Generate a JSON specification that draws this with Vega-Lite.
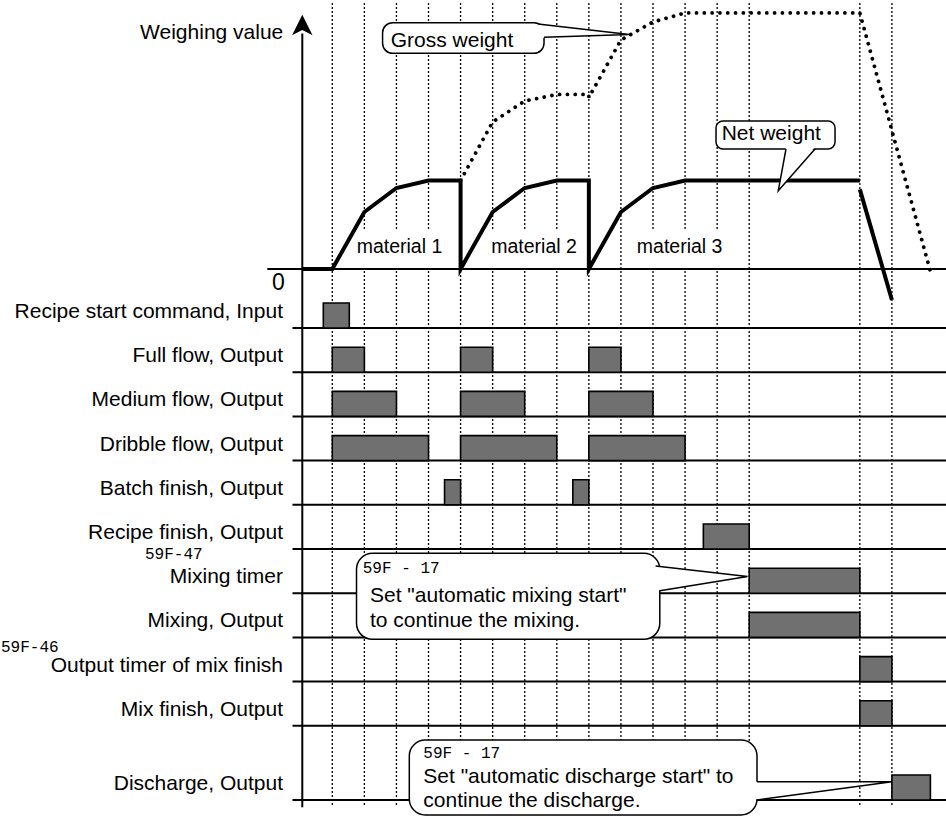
{
  "$schema": "https://vega.github.io/schema/vega-lite/v6.json",
  "width": 946,
  "height": 818,
  "padding": 0,
  "autosize": {"type": "none"},
  "background": "white",
  "config": {"view": {"stroke": null}, "font": "Liberation Sans"},
  "datasets": {
    "one": [{}],
    "grid": [{"t":0},{"t":1},{"t":2},{"t":3},{"t":4},{"t":5},{"t":6},{"t":7},{"t":8},{"t":9},{"t":10},{"t":11},{"t":12},{"t":13},{"t":16.45},{"t":17.45}],
    "lanes": [
      {"lane":1,"label":"Recipe start command, Input"},
      {"lane":2,"label":"Full flow, Output"},
      {"lane":3,"label":"Medium flow, Output"},
      {"lane":4,"label":"Dribble flow, Output"},
      {"lane":5,"label":"Batch finish, Output"},
      {"lane":6,"label":"Recipe finish, Output"},
      {"lane":7,"label":"Mixing timer"},
      {"lane":8,"label":"Mixing, Output"},
      {"lane":9,"label":"Output timer of mix finish"},
      {"lane":10,"label":"Mix finish, Output"},
      {"lane":11.679,"label":"Discharge, Output"}
    ],
    "boxes": [
      {"lane":1,"on":-0.28,"off":0.53},
      {"lane":2,"on":0,"off":1},{"lane":2,"on":4,"off":5},{"lane":2,"on":8,"off":9},
      {"lane":3,"on":0,"off":2},{"lane":3,"on":4,"off":6},{"lane":3,"on":8,"off":10},
      {"lane":4,"on":0,"off":3},{"lane":4,"on":4,"off":7},{"lane":4,"on":8,"off":11},
      {"lane":5,"on":3.5,"off":4},{"lane":5,"on":7.5,"off":8},
      {"lane":6,"on":11.57,"off":13},
      {"lane":7,"on":13,"off":16.45},
      {"lane":8,"on":13,"off":16.45},
      {"lane":9,"on":16.45,"off":17.45},
      {"lane":10,"on":16.45,"off":17.45},
      {"lane":11.679,"on":17.45,"off":18.65}
    ],
    "net": [
      {"seg":"a","i":1,"t":-0.9355,"w":0},
      {"seg":"a","i":2,"t":0,"w":0},
      {"seg":"a","i":3,"t":1,"w":64.4},
      {"seg":"a","i":4,"t":2,"w":91.5},
      {"seg":"a","i":5,"t":3,"w":100},
      {"seg":"a","i":6,"t":4,"w":100},
      {"seg":"a","i":7,"t":4,"w":0},
      {"seg":"a","i":8,"t":5,"w":64.4},
      {"seg":"a","i":9,"t":6,"w":91.5},
      {"seg":"a","i":10,"t":7,"w":100},
      {"seg":"a","i":11,"t":8,"w":100},
      {"seg":"a","i":12,"t":8,"w":0},
      {"seg":"a","i":13,"t":9,"w":64.4},
      {"seg":"a","i":14,"t":10,"w":91.5},
      {"seg":"a","i":15,"t":11,"w":100},
      {"seg":"a","i":16,"t":16.45,"w":100},
      {"seg":"b","i":17,"t":16.45,"w":90},
      {"seg":"b","i":18,"t":17.45,"w":-35}
    ],
    "gross": [
      {"i":1,"t":4,"w":100},
      {"i":2,"t":5,"w":166.1},
      {"i":3,"t":6,"w":189.8},
      {"i":4,"t":7,"w":197.2},
      {"i":5,"t":8,"w":197.2},
      {"i":6,"t":8,"w":193.8},
      {"i":7,"t":9,"w":258.8},
      {"i":8,"t":10,"w":279.1},
      {"i":9,"t":11,"w":289.3},
      {"i":10,"t":16.45,"w":289.3},
      {"i":11,"t":18.67,"w":-5.6}
    ],
    "matbg": [{"x1":0.427,"x2":3.763},{"x1":4.621,"x2":7.957},{"x1":9.221,"x2":12.464}],
    "materials": [{"t":2.095,"s":"material 1"},{"t":6.29,"s":"material 2"},{"t":10.83,"s":"material 3"}]
  },
  "resolve": {"scale": {"y": "independent"}},
  "layer": [
    {
      "data": {"name": "grid"},
      "mark": {"type": "rule", "color": "black", "strokeWidth": 1.3, "strokeDash": [2, 2]},
      "encoding": {
        "x": {"field": "t", "type": "quantitative", "scale": {"domain": [-10.3617, 19.1363], "nice": false, "zero": false}, "axis": null},
        "y": {"datum": -6.353, "type": "quantitative", "scale": {"domain": [-6.4208, 12.086], "reverse": true, "nice": false, "zero": false}, "axis": null},
        "y2": {"datum": 11.837}
      }
    },
    {
      "data": {"name": "matbg"},
      "mark": {"type": "rect", "fill": "white"},
      "encoding": {
        "x": {"field": "x1", "type": "quantitative", "scale": {"domain": [-10.3617, 19.1363], "nice": false, "zero": false}, "axis": null},
        "x2": {"field": "x2"},
        "y": {"datum": 44.1, "type": "quantitative", "scale": {"domain": [-620.34, 303.95], "nice": false, "zero": false}, "axis": null},
        "y2": {"datum": 1.1}
      }
    },
    {
      "data": {"name": "lanes"},
      "mark": {"type": "rule", "color": "black", "strokeWidth": 2},
      "encoding": {
        "x": {"datum": -1.241, "type": "quantitative", "scale": {"domain": [-10.3617, 19.1363], "nice": false, "zero": false}, "axis": null},
        "x2": {"datum": 19.1363},
        "y": {"field": "lane", "type": "quantitative", "scale": {"domain": [-6.4208, 12.086], "reverse": true, "nice": false, "zero": false}, "axis": null}
      }
    },
    {
      "data": {"name": "one"},
      "mark": {"type": "rule", "color": "black", "strokeWidth": 1.8},
      "encoding": {
        "x": {"datum": -2.027, "type": "quantitative", "scale": {"domain": [-10.3617, 19.1363], "nice": false, "zero": false}, "axis": null},
        "x2": {"datum": 19.1363},
        "y": {"datum": 0, "type": "quantitative", "scale": {"domain": [-620.34, 303.95], "nice": false, "zero": false}, "axis": null}
      }
    },
    {
      "data": {"name": "one"},
      "mark": {"type": "rule", "color": "black", "strokeWidth": 2},
      "encoding": {
        "x": {"datum": -0.9355, "type": "quantitative", "scale": {"domain": [-10.3617, 19.1363], "nice": false, "zero": false}, "axis": null},
        "y": {"datum": 266, "type": "quantitative", "scale": {"domain": [-620.34, 303.95], "nice": false, "zero": false}, "axis": null},
        "y2": {"datum": -608.2}
      }
    },
    {
      "data": {"name": "one"},
      "mark": {"type": "point", "shape": "M0,-1L-1,1L0,0.5L1,1Z", "size": 420, "filled": true, "color": "black", "opacity": 1},
      "encoding": {
        "x": {"datum": -0.9355, "type": "quantitative", "scale": {"domain": [-10.3617, 19.1363], "nice": false, "zero": false}, "axis": null},
        "y": {"datum": 275.7, "type": "quantitative", "scale": {"domain": [-620.34, 303.95], "nice": false, "zero": false}, "axis": null}
      }
    },
    {
      "data": {"name": "gross"},
      "mark": {"type": "line", "color": "black", "strokeWidth": 3.8, "strokeDash": [0.01, 7.8], "strokeCap": "round"},
      "encoding": {
        "x": {"field": "t", "type": "quantitative", "scale": {"domain": [-10.3617, 19.1363], "nice": false, "zero": false}, "axis": null},
        "y": {"field": "w", "type": "quantitative", "scale": {"domain": [-620.34, 303.95], "nice": false, "zero": false}, "axis": null},
        "order": {"field": "i", "type": "quantitative"}
      }
    },
    {
      "data": {"name": "net"},
      "mark": {"type": "line", "color": "black", "strokeWidth": 4},
      "encoding": {
        "x": {"field": "t", "type": "quantitative", "scale": {"domain": [-10.3617, 19.1363], "nice": false, "zero": false}, "axis": null},
        "y": {"field": "w", "type": "quantitative", "scale": {"domain": [-620.34, 303.95], "nice": false, "zero": false}, "axis": null},
        "detail": {"field": "seg", "type": "nominal"},
        "order": {"field": "i", "type": "quantitative"}
      }
    },
    {
      "data": {"name": "boxes"},
      "mark": {"type": "rect", "fill": "#707070", "stroke": "black", "strokeWidth": 1.6, "y2Offset": -25},
      "encoding": {
        "x": {"field": "on", "type": "quantitative", "scale": {"domain": [-10.3617, 19.1363], "nice": false, "zero": false}, "axis": null},
        "x2": {"field": "off"},
        "y": {"field": "lane", "type": "quantitative", "scale": {"domain": [-6.4208, 12.086], "reverse": true, "nice": false, "zero": false}, "axis": null},
        "y2": {"field": "lane"}
      }
    },
    {
      "data": {"name": "lanes"},
      "mark": {"type": "text", "align": "right", "baseline": "alphabetic", "fontSize": 21, "font": "Liberation Sans", "color": "black", "dy": -10},
      "encoding": {
        "x": {"datum": -1.537, "type": "quantitative", "scale": {"domain": [-10.3617, 19.1363], "nice": false, "zero": false}, "axis": null},
        "y": {"field": "lane", "type": "quantitative", "scale": {"domain": [-6.4208, 12.086], "reverse": true, "nice": false, "zero": false}, "axis": null},
        "text": {"field": "label"}
      }
    },
    {
      "data": {"name": "materials"},
      "mark": {"type": "text", "align": "center", "baseline": "alphabetic", "fontSize": 19.5, "font": "Liberation Sans", "color": "black"},
      "encoding": {
        "x": {"field": "t", "type": "quantitative", "scale": {"domain": [-10.3617, 19.1363], "nice": false, "zero": false}, "axis": null},
        "y": {"datum": 18.4, "type": "quantitative", "scale": {"domain": [-620.34, 303.95], "nice": false, "zero": false}, "axis": null},
        "text": {"field": "s"}
      }
    },
    {
      "data": {"values": [{"x1": 1.568, "x2": 6.602, "y1": 278.3, "y2": 243.7}]},
      "mark": {"type": "rect", "fill": "white", "stroke": "black", "strokeWidth": 1.5, "cornerRadius": 10},
      "encoding": {
        "x": {"field": "x1", "type": "quantitative", "scale": {"domain": [-10.3617, 19.1363], "nice": false, "zero": false}, "axis": null},
        "x2": {"field": "x2"},
        "y": {"field": "y1", "type": "quantitative", "scale": {"domain": [-620.34, 303.95], "nice": false, "zero": false}, "axis": null},
        "y2": {"field": "y2"}
      }
    },
    {
      "data": {"values": [{"x1": 11.965, "x2": 15.676, "y1": 167.2, "y2": 135.6}]},
      "mark": {"type": "rect", "fill": "white", "stroke": "black", "strokeWidth": 1.5, "cornerRadius": 7},
      "encoding": {
        "x": {"field": "x1", "type": "quantitative", "scale": {"domain": [-10.3617, 19.1363], "nice": false, "zero": false}, "axis": null},
        "x2": {"field": "x2"},
        "y": {"field": "y1", "type": "quantitative", "scale": {"domain": [-620.34, 303.95], "nice": false, "zero": false}, "axis": null},
        "y2": {"field": "y2"}
      }
    },
    {
      "data": {"values": [{"t": 6.414, "top": 276.8, "bot": 261.0}, {"t": 9.261, "top": 265.0, "bot": 265.0}]},
      "mark": {"type": "area", "fill": "white", "opacity": 1},
      "encoding": {
        "x": {"field": "t", "type": "quantitative", "scale": {"domain": [-10.3617, 19.1363], "nice": false, "zero": false}, "axis": null},
        "y": {"field": "top", "type": "quantitative", "scale": {"domain": [-620.34, 303.95], "nice": false, "zero": false}, "axis": null},
        "y2": {"field": "bot"}
      }
    },
    {
      "data": {"values": [{"w": 137.9, "xl": 14.147, "xr": 15.051}, {"w": 88.5, "xl": 13.907, "xr": 13.907}]},
      "mark": {"type": "area", "orient": "horizontal", "fill": "white", "opacity": 1},
      "encoding": {
        "y": {"field": "w", "type": "quantitative", "scale": {"domain": [-620.34, 303.95], "nice": false, "zero": false}, "axis": null},
        "x": {"field": "xl", "type": "quantitative", "scale": {"domain": [-10.3617, 19.1363], "nice": false, "zero": false}, "axis": null},
        "x2": {"field": "xr"}
      }
    },
    {
      "data": {"values": [
        {"id": "g", "i": 1, "t": 6.414, "w": 276.8}, {"id": "g", "i": 2, "t": 9.261, "w": 265.0}, {"id": "g", "i": 3, "t": 6.602, "w": 261.8},
        {"id": "n", "i": 1, "t": 14.147, "w": 135.6}, {"id": "n", "i": 2, "t": 13.907, "w": 88.5}, {"id": "n", "i": 3, "t": 15.051, "w": 135.6}
      ]},
      "mark": {"type": "line", "color": "black", "strokeWidth": 1.5},
      "encoding": {
        "x": {"field": "t", "type": "quantitative", "scale": {"domain": [-10.3617, 19.1363], "nice": false, "zero": false}, "axis": null},
        "y": {"field": "w", "type": "quantitative", "scale": {"domain": [-620.34, 303.95], "nice": false, "zero": false}, "axis": null},
        "detail": {"field": "id", "type": "nominal"},
        "order": {"field": "i", "type": "quantitative"}
      }
    },
    {
      "data": {"values": [{"t": 1.821, "w": 251.2, "s": "Gross weight"}, {"t": 12.142, "w": 145.8, "s": "Net weight"}]},
      "mark": {"type": "text", "align": "left", "baseline": "alphabetic", "fontSize": 21, "font": "Liberation Sans", "color": "black"},
      "encoding": {
        "x": {"field": "t", "type": "quantitative", "scale": {"domain": [-10.3617, 19.1363], "nice": false, "zero": false}, "axis": null},
        "y": {"field": "w", "type": "quantitative", "scale": {"domain": [-620.34, 303.95], "nice": false, "zero": false}, "axis": null},
        "text": {"field": "s"}
      }
    },
    {
      "data": {"values": [{"x1": 0.755, "x2": 10.212, "y1": 6.097, "y2": 8.043}, {"x1": 2.401, "x2": 13.243, "y1": 10.321, "y2": 12.018}]},
      "mark": {"type": "rect", "fill": "white", "stroke": "black", "strokeWidth": 1.5, "cornerRadius": 16},
      "encoding": {
        "x": {"field": "x1", "type": "quantitative", "scale": {"domain": [-10.3617, 19.1363], "nice": false, "zero": false}, "axis": null},
        "x2": {"field": "x2"},
        "y": {"field": "y1", "type": "quantitative", "scale": {"domain": [-6.4208, 12.086], "reverse": true, "nice": false, "zero": false}, "axis": null},
        "y2": {"field": "y2"}
      }
    },
    {
      "data": {"values": [
        {"id": "m", "t": 10.081, "top": 6.385, "bot": 6.943}, {"id": "m", "t": 12.947, "top": 6.622, "bot": 6.622},
        {"id": "d", "t": 13.15, "top": 11.265, "bot": 11.67}, {"id": "d", "t": 17.45, "top": 11.265, "bot": 11.265}
      ]},
      "mark": {"type": "area", "fill": "white", "opacity": 1},
      "encoding": {
        "x": {"field": "t", "type": "quantitative", "scale": {"domain": [-10.3617, 19.1363], "nice": false, "zero": false}, "axis": null},
        "y": {"field": "top", "type": "quantitative", "scale": {"domain": [-6.4208, 12.086], "reverse": true, "nice": false, "zero": false}, "axis": null},
        "y2": {"field": "bot"},
        "detail": {"field": "id", "type": "nominal"}
      }
    },
    {
      "data": {"values": [
        {"id": "m", "i": 1, "t": 10.081, "L": 6.385}, {"id": "m", "i": 2, "t": 12.947, "L": 6.622}, {"id": "m", "i": 3, "t": 10.212, "L": 6.943},
        {"id": "d", "i": 1, "t": 13.243, "L": 11.265}, {"id": "d", "i": 2, "t": 17.45, "L": 11.265}, {"id": "d", "i": 3, "t": 13.243, "L": 11.679}
      ]},
      "mark": {"type": "line", "color": "black", "strokeWidth": 1.5},
      "encoding": {
        "x": {"field": "t", "type": "quantitative", "scale": {"domain": [-10.3617, 19.1363], "nice": false, "zero": false}, "axis": null},
        "y": {"field": "L", "type": "quantitative", "scale": {"domain": [-6.4208, 12.086], "reverse": true, "nice": false, "zero": false}, "axis": null},
        "detail": {"field": "id", "type": "nominal"},
        "order": {"field": "i", "type": "quantitative"}
      }
    },
    {
      "data": {"values": [
        {"t": 1.176, "L": 7.192, "s": "Set \"automatic mixing start\""},
        {"t": 1.176, "L": 7.758, "s": "to continue the mixing."},
        {"t": 2.838, "L": 11.301, "s": "Set \"automatic discharge start\" to"},
        {"t": 2.838, "L": 11.844, "s": "continue the discharge."}
      ]},
      "mark": {"type": "text", "align": "left", "baseline": "alphabetic", "fontSize": 21, "font": "Liberation Sans", "color": "black"},
      "encoding": {
        "x": {"field": "t", "type": "quantitative", "scale": {"domain": [-10.3617, 19.1363], "nice": false, "zero": false}, "axis": null},
        "y": {"field": "L", "type": "quantitative", "scale": {"domain": [-6.4208, 12.086], "reverse": true, "nice": false, "zero": false}, "axis": null},
        "text": {"field": "s"}
      }
    },
    {
      "data": {"values": [
        {"t": 0.95, "L": 6.55, "s": "59F - 17"},
        {"t": 2.838, "L": 10.735, "s": "59F - 17"},
        {"t": -5.84, "L": 6.235, "s": "59F-47"},
        {"t": -10.33, "L": 8.33, "s": "59F-46"}
      ]},
      "mark": {"type": "text", "align": "left", "baseline": "alphabetic", "fontSize": 16, "font": "Liberation Mono", "color": "black"},
      "encoding": {
        "x": {"field": "t", "type": "quantitative", "scale": {"domain": [-10.3617, 19.1363], "nice": false, "zero": false}, "axis": null},
        "y": {"field": "L", "type": "quantitative", "scale": {"domain": [-6.4208, 12.086], "reverse": true, "nice": false, "zero": false}, "axis": null},
        "text": {"field": "s"}
      }
    },
    {
      "data": {"values": [{"t": -1.528, "w": 259.5, "s": "Weighing value"}]},
      "mark": {"type": "text", "align": "right", "baseline": "alphabetic", "fontSize": 21, "font": "Liberation Sans", "color": "black"},
      "encoding": {
        "x": {"field": "t", "type": "quantitative", "scale": {"domain": [-10.3617, 19.1363], "nice": false, "zero": false}, "axis": null},
        "y": {"field": "w", "type": "quantitative", "scale": {"domain": [-620.34, 303.95], "nice": false, "zero": false}, "axis": null},
        "text": {"field": "s"}
      }
    },
    {
      "data": {"values": [{"t": -1.684, "w": -23.7, "s": "0"}]},
      "mark": {"type": "text", "align": "center", "baseline": "alphabetic", "fontSize": 23, "font": "Liberation Sans", "color": "black"},
      "encoding": {
        "x": {"field": "t", "type": "quantitative", "scale": {"domain": [-10.3617, 19.1363], "nice": false, "zero": false}, "axis": null},
        "y": {"field": "w", "type": "quantitative", "scale": {"domain": [-620.34, 303.95], "nice": false, "zero": false}, "axis": null},
        "text": {"field": "s"}
      }
    }
  ]
}
